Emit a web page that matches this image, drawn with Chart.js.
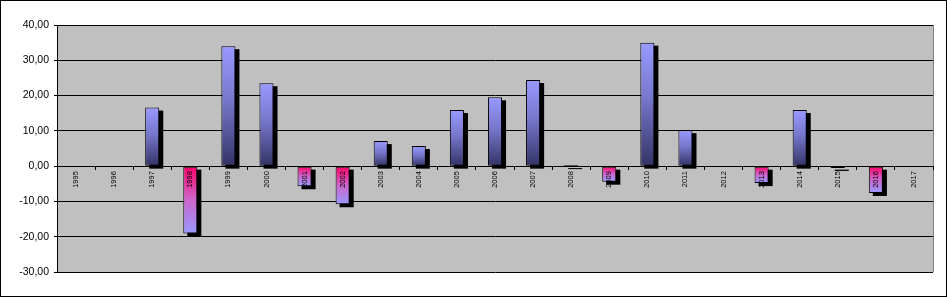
<!DOCTYPE html>
<html>
<head>
<meta charset="utf-8">
<script src="https://cdn.jsdelivr.net/npm/chart.js@4/dist/chart.umd.min.js"></script>
<style>
  html, body { margin: 0; padding: 0; background: #fff; }
  #wrap { width: 947px; height: 297px; box-sizing: border-box; border: 1px solid #000; position: relative; }
  canvas { position: absolute; left: -1px; top: -1px; }
</style>
</head>
<body>
<div id="wrap"><canvas id="c" width="947" height="297"></canvas></div>
<script>
// 年份與數值
const years = ['1995','1996','1997','1998','1999','2000','2001','2002','2003','2004','2005','2006',
               '2007','2008','2009','2010','2011','2012','2013','2014','2015','2016','2017'];
const values = [0, 0, 16.6, -19.1, 34.0, 23.5, -5.7, -10.8, 7.1, 5.7, 15.9, 19.5,
                24.4, 0.3, -4.4, 35.0, 10.2, 0, -4.8, 15.9, -0.5, -7.6, 0];
const yMin = -30, yMax = 40, yStep = 10;

// 漸層顏色
function barColor(context) {
    const chart = context.chart;
    const area = chart.chartArea;
    const v = context.parsed ? context.parsed.y : 0;
    if (!area) return v >= 0 ? '#9999ff' : '#ff0066';
    const y = chart.scales.y;
    const p0 = y.getPixelForValue(0);
    const p1 = y.getPixelForValue(v);
    if (Math.abs(p1 - p0) < 1) return '#000';
    const g = chart.ctx.createLinearGradient(0, Math.min(p0, p1), 0, Math.max(p0, p1));
    if (v >= 0) {
        g.addColorStop(0, '#9999ff');
        g.addColorStop(0.45, '#7777cc');
        g.addColorStop(1, '#333366');
    } else {
        g.addColorStop(0, '#ff0066');
        g.addColorStop(0.5, '#cc66cc');
        g.addColorStop(1, '#9999ff');
    }
    return g;
}

// 陰影 (畫在每根柱子後面)
const shadowPlugin = {
    id: 'barShadow',
    beforeDatasetsDraw(chart) {
        const ctx = chart.ctx;
        const meta = chart.getDatasetMeta(0);
        ctx.save();
        ctx.fillStyle = '#000';
        meta.data.forEach((bar, i) => {
            if (values[i] === 0) return;
            const top = Math.min(bar.y, bar.base);
            const h = Math.abs(bar.base - bar.y);
            ctx.fillRect(bar.x - bar.width / 2 + 4, top + 3, bar.width, Math.max(h, 1));
        });
        ctx.restore();
    }
};

const bgPlugin = {
    id: 'plotBg',
    beforeDraw(chart) {
        const a = chart.chartArea;
        const ctx = chart.ctx;
        ctx.save();
        ctx.fillStyle = '#c0c0c0';
        ctx.fillRect(a.left, a.top, a.right - a.left, a.bottom - a.top);
        ctx.strokeStyle = '#808080';
        ctx.lineWidth = 1;
        ctx.beginPath();
        ctx.moveTo(a.right + 0.5, a.top);
        ctx.lineTo(a.right + 0.5, a.bottom);
        ctx.stroke();
        ctx.restore();
    }
};

new Chart(document.getElementById('c'), {
    type: 'bar',
    data: {
        labels: years,
        datasets: [{
            data: values,
            backgroundColor: barColor,
            borderColor: '#000',
            borderWidth: 1,
            borderSkipped: false,
            barPercentage: 0.37,
            categoryPercentage: 1
        }]
    },
    options: {
        responsive: false,
        animation: false,
        layout: { padding: { left: 0, top: 25, right: 14, bottom: 25 } },
        plugins: { legend: { display: false }, tooltip: { enabled: false } },
        scales: {
            x: {
                position: { y: 0 },
                offset: true,
                grid: { offset: true, drawOnChartArea: false, drawTicks: true, tickLength: 3, color: '#000' },
                border: { color: '#000', width: 1 },
                ticks: {
                    z: 1,
                    color: '#000',
                    font: { family: 'Liberation Sans', size: 7.5 },
                    minRotation: 90, maxRotation: 90,
                    autoSkip: false,
                    padding: 2
                }
            },
            y: {
                min: yMin, max: yMax,
                afterFit(scale) { scale.width = 57; },
                grid: { color: '#000', tickLength: 3 },
                border: { color: '#000', width: 1 },
                ticks: {
                    stepSize: yStep,
                    color: '#000',
                    font: { family: 'Liberation Sans', size: 10.5 },
                    padding: 5,
                    callback: v => v.toFixed(2).replace('.', ',')
                }
            }
        }
    },
    plugins: [bgPlugin, shadowPlugin]
});
</script>
</body>
</html>
